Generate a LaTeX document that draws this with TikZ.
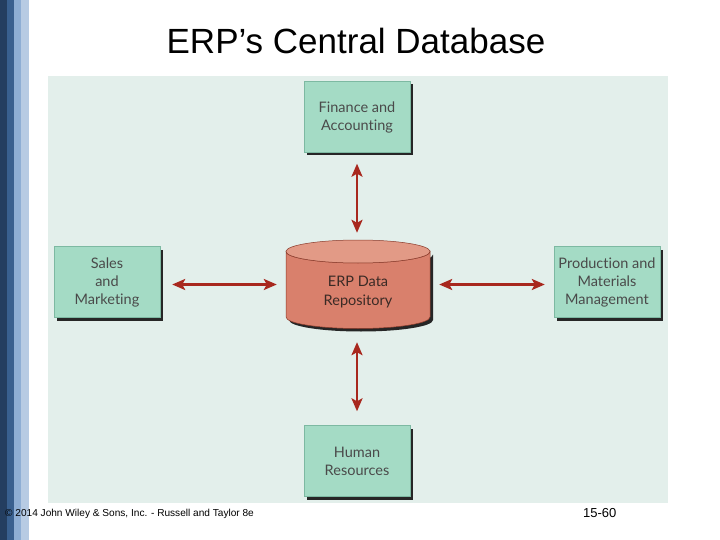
\documentclass[tikz,border=0pt]{standalone}
\usepackage{fontspec}
\setmainfont{Liberation Sans}
\newfontfamily\boxfont[Ligatures=NoCommon]{Lato}
\usetikzlibrary{arrows.meta,shadows}
\definecolor{stripeA}{HTML}{243E60}
\definecolor{stripeB}{HTML}{39608F}
\definecolor{stripeC}{HTML}{8EAED4}
\definecolor{stripeD}{HTML}{B7CBE3}
\definecolor{panel}{HTML}{E3EFEB}
\definecolor{boxfill}{HTML}{A4DBC5}
\definecolor{boxline}{HTML}{7DB9A2}
\definecolor{boxtext}{HTML}{4A4A4A}
\definecolor{arrowred}{HTML}{A8281E}
\definecolor{dbbody}{HTML}{D9806C}
\definecolor{dbtop}{HTML}{E29A86}
\definecolor{dbline}{HTML}{8A3A2A}
\definecolor{dbtextc}{HTML}{3A2A25}
\tikzset{
  modbox/.style={rectangle, fill=boxfill, draw=boxline, line width=0.4pt,
    minimum width=106pt, minimum height=71pt, inner sep=0pt, align=center,
    text=boxtext, font=\boxfont\fontsize{14.5}{18}\selectfont,
    drop shadow={shadow xshift=3pt, shadow yshift=-3pt, opacity=1, fill=black!85}},
  link/.style={draw=arrowred, line width=2.6pt,
    {Stealth[length=13pt,width=11pt,inset=3pt]}-{Stealth[length=13pt,width=11pt,inset=3pt]}},
}
\begin{document}
\begin{tikzpicture}[x=1pt,y=-1pt]
\useasboundingbox (0,0) rectangle (720,540);
\fill[white] (0,0) rectangle (720,540);
% stripes
\fill[stripeA] (0,0) rectangle (7,540);
\fill[stripeB] (7,0) rectangle (14,540);
\fill[stripeC] (14,0) rectangle (21,540);
\fill[stripeD] (21,0) rectangle (29,540);
% panel
\fill[panel] (48,76) rectangle (668,503);
% title
\node[anchor=base, inner sep=0pt, font=\fontsize{35}{40}\selectfont] (title) at (356,54) {ERP’s Central Database};
% boxes
\node[modbox] (fin) at (357,117) {Finance and\\Accounting};
\node[modbox] (sales) at (107,282) {Sales\\and\\Marketing};
\node[modbox] (prod) at (607,282) {Production and\\Materials\\Management};
\node[modbox] (hr) at (357,461) {Human\\Resources};
% database cylinder
\node[minimum width=144pt, minimum height=89pt, inner sep=0pt] (db) at (358,284.5) {};
\fill[black!85] (289,254.5) -- (289,320) arc[start angle=180,end angle=0,x radius=72,y radius=11.5] -- (433,254.5) arc[start angle=0,end angle=180,x radius=72,y radius=11.5] -- cycle;
\filldraw[fill=dbbody, draw=dbline, line width=0.5pt] (286,251.5) -- (286,317) arc[start angle=180,end angle=0,x radius=72,y radius=11.5] -- (430,251.5) arc[start angle=0,end angle=180,x radius=72,y radius=11.5] -- cycle;
\filldraw[fill=dbtop, draw=dbline, line width=0.5pt] (358,251.5) ellipse[x radius=72, y radius=11.5];
\node[align=center, text=dbtextc, font=\boxfont\fontsize{14.5}{19}\selectfont, inner sep=0pt] (dbtext) at (358,292) {ERP Data\\Repository};
% connectors
\draw[link, shorten <=11pt, shorten >=7pt] (fin.south) -- (fin.south |- db.north);
\draw[link, shorten <=13pt, shorten >=14pt] (hr.north |- db.south) -- (hr.north);
\draw[link, shorten <=12pt, shorten >=9pt] (sales.east |- db.west) -- (db.west);
\draw[link, shorten <=9pt, shorten >=9pt] (db.east) -- (prod.west |- db.east);
% footer
\node[anchor=base west, inner sep=0pt, font=\fontsize{10.1}{12}\selectfont] (copy) at (5,516) {© 2014 John Wiley \& Sons, Inc. - Russell and Taylor 8e};
\node[anchor=base west, inner sep=0pt, font=\fontsize{13}{15}\selectfont] (page) at (583,517) {15-60};
\end{tikzpicture}
\end{document}
